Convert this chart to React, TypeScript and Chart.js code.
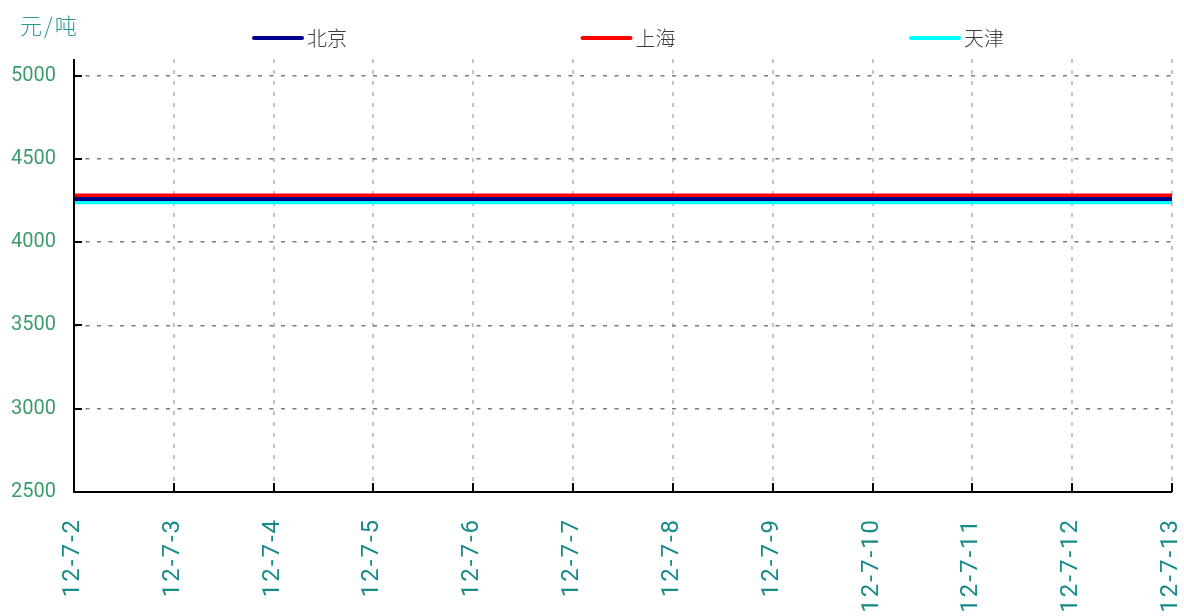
import React, { useEffect, useRef } from "react";
import { Chart, registerables } from "chart.js";

Chart.register(...registerables);

const categories = ["12-7-2", "12-7-3", "12-7-4", "12-7-5", "12-7-6", "12-7-7", "12-7-8", "12-7-9", "12-7-10", "12-7-11", "12-7-12", "12-7-13"];
const seriesNames = ["北京", "上海", "天津"];
const beijing = [4260, 4260, 4260, 4260, 4260, 4260, 4260, 4260, 4260, 4260, 4260, 4260];
const shanghai = [4280, 4280, 4280, 4280, 4280, 4280, 4280, 4280, 4280, 4280, 4280, 4280];
const tianjin = [4240, 4240, 4240, 4240, 4240, 4240, 4240, 4240, 4240, 4240, 4240, 4240];
const seriesColors = ["#00008b", "#ff0000", "#00ffff"];
const yTicks = [2500, 3000, 3500, 4000, 4500, 5000];
const unitLabel = "元/吨";

const W = 1184;
const H = 616;

const decorPlugin = {
  id: "decor",
  afterDraw(chart: any) {
    const ctx: CanvasRenderingContext2D = chart.ctx;
    const ca = chart.chartArea;
    const xs = chart.scales.x;
    const ys = chart.scales.y;
    ctx.save();
    // axes
    ctx.strokeStyle = "#000";
    ctx.lineWidth = 2;
    ctx.beginPath();
    ctx.moveTo(ca.left, ca.top);
    ctx.lineTo(ca.left, ca.bottom);
    ctx.lineTo(ca.right, ca.bottom);
    ctx.stroke();
    // inward ticks
    ctx.lineWidth = 2;
    ctx.beginPath();
    for (let i = 0; i < categories.length; i++) {
      const px = Math.round(xs.getPixelForValue(i));
      ctx.moveTo(px, ca.bottom);
      ctx.lineTo(px, ca.bottom - 9);
    }
    for (const v of yTicks) {
      const py = Math.round(ys.getPixelForValue(v));
      ctx.moveTo(ca.left, py);
      ctx.lineTo(ca.left + 8, py);
    }
    ctx.stroke();
    // x labels rotated
    ctx.fillStyle = "#178a8a";
    ctx.font = "24px Roboto";
    (ctx as any).letterSpacing = "2px";
    ctx.textAlign = "right";
    ctx.textBaseline = "middle";
    for (let i = 0; i < categories.length; i++) {
      const px = xs.getPixelForValue(i);
      ctx.save();
      ctx.translate(px - 1, ca.bottom + 26);
      ctx.rotate(-Math.PI / 2);
      ctx.fillText(categories[i], 0, 0);
      ctx.restore();
    }
    (ctx as any).letterSpacing = "0px";
    // legend
    ctx.textAlign = "left";
    ctx.textBaseline = "middle";
    ctx.font = '300 20px "Noto Sans CJK SC"';
    chart.data.datasets.forEach((ds: any, i: number) => {
      const x0 = ca.left + 180 + i * 328.5;
      const y0 = 38;
      ctx.strokeStyle = ds.borderColor;
      ctx.lineWidth = 4;
      ctx.lineCap = "round";
      ctx.beginPath();
      ctx.moveTo(x0, y0);
      ctx.lineTo(x0 + 48, y0);
      ctx.stroke();
      ctx.fillStyle = "#3a3a3a";
      ctx.fillText(ds.label, x0 + 53, y0);
    });
    // unit title
    ctx.fillStyle = "#2a9494";
    ctx.font = '300 22px "Noto Sans CJK SC"';
    (ctx as any).letterSpacing = "2px";
    ctx.fillText(unitLabel, 20, 26);
    (ctx as any).letterSpacing = "0px";
    ctx.restore();
  },
};

export default function App() {
  const ref = useRef<HTMLCanvasElement>(null);
  useEffect(() => {
    document.body.style.margin = "0";
    const values = [beijing, shanghai, tianjin];
    const chart = new Chart(ref.current!, {
      type: "line",
      data: {
        labels: categories,
        datasets: seriesNames.map((name, i) => ({
          label: name,
          data: values[i],
          borderColor: seriesColors[i],
          backgroundColor: seriesColors[i],
          borderWidth: 4,
          pointRadius: 0,
          fill: false,
          tension: 0,
        })),
      },
      options: {
        animation: false,
        responsive: false,
        layout: { padding: { top: 59, right: 12, left: 0, bottom: 0 } },
        plugins: { legend: { display: false }, tooltip: { enabled: false }, title: { display: false } },
        scales: {
          x: {
            type: "category",
            offset: false,
            ticks: { display: false },
            grid: { color: "#c4c4c4", lineWidth: 2, drawTicks: false },
            border: { display: false, dash: [4, 7] },
            afterFit: (s: any) => {
              s.height = 124;
            },
          },
          y: {
            type: "linear",
            min: 2500,
            max: 5100,
            ticks: {
              padding: 18,
              color: "#3c9c6c",
              font: { family: "Roboto", size: 20 },
              callback: (v: any) => String(v),
            },
            afterBuildTicks: (s: any) => {
              s.ticks = yTicks.map((v) => ({ value: v }));
            },
            grid: { color: "#7a7a7a", lineWidth: 1.5, drawTicks: false },
            border: { display: false, dash: [4, 7.5] },
            afterFit: (s: any) => {
              s.width = 74;
            },
          },
        },
      },
      plugins: [decorPlugin],
    });
    return () => chart.destroy();
  }, []);
  return (
    <div style={{ width: W, height: H }}>
      <canvas ref={ref} width={W} height={H} style={{ display: "block" }} />
    </div>
  );
}
